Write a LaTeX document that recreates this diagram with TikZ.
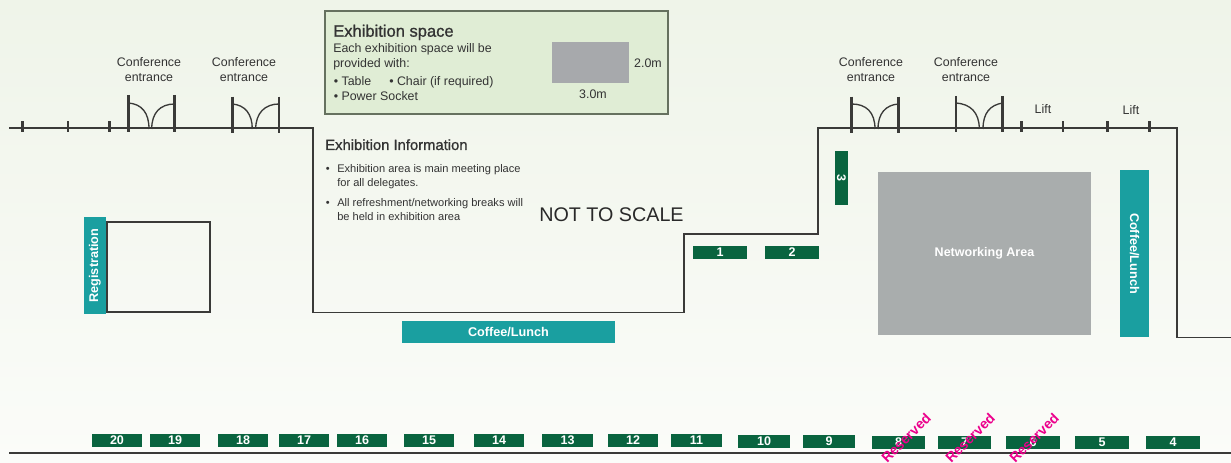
\documentclass[tikz,border=0pt]{standalone}
\usepackage{fontspec}
\setmainfont{Liberation Sans}
\newfontfamily\headfont[FakeBold=1]{Liberation Sans}
\definecolor{bgtop}{HTML}{EFF4E9}
\definecolor{bgbot}{HTML}{FBFCF9}
\definecolor{panelgreen}{HTML}{E0EDD5}
\definecolor{panelline}{HTML}{66715F}
\definecolor{standgreen}{HTML}{09643F}
\definecolor{teal}{HTML}{1A9FA0}
\definecolor{wallgrey}{HTML}{3A3A38}
\definecolor{textgrey}{HTML}{333333}
\definecolor{floorgrey}{HTML}{A9ADAD}
\definecolor{spacegrey}{HTML}{A7A9AC}
\definecolor{reservedpink}{HTML}{EC008C}
\tikzset{
  wall/.style={wallgrey,line width=1.2pt},
  tick/.style={wallgrey,line width=2.2pt},
  doorpost/.style={wallgrey,line width=2.2pt},
  doorswing/.style={wallgrey,line width=1pt},
  stand/.style={fill=standgreen,text=white,inner sep=0pt,minimum height=9.75pt,font=\fontsize{9.4}{11}\selectfont\bfseries},
  service/.style={fill=teal,text=white,inner sep=0pt,font=\fontsize{9.5}{11}\selectfont\bfseries},
  label/.style={text=textgrey,inner sep=0pt,align=center,font=\fontsize{9.3}{11.25}\selectfont},
  small/.style={text=textgrey,inner sep=0pt,anchor=base west,font=\fontsize{9.3}{11}\selectfont},
  info/.style={text=textgrey,inner sep=0pt,anchor=base west,font=\fontsize{8.3}{10}\selectfont},
  reserved/.style={text=reservedpink,inner sep=0pt,rotate=45,font=\fontsize{10.5}{12}\selectfont\bfseries}
}
\begin{document}
\begin{tikzpicture}[x=0.75pt,y=-0.75pt]
            \clip (0,0) rectangle (1231,463);
            \shade [top color=bgtop,bottom color=bgbot] (0,0) rectangle (1231,463);
            \draw [wall] (9,128.3) -- (312.7,128.3) -- (312.7,312.5) -- (684,312.5) -- (684,234) -- (818,234) -- (818,128.3) -- (1176.7,128.3) -- (1176.7,337.3) -- (1231,337.3);
            \draw [wall] (9,453) -- (1231,453);
            \draw [tick] (22.7,121.5) -- (22.7,132);
            \draw [tick] (68,121.5) -- (68,132);
            \draw [tick] (109.3,121.5) -- (109.3,132);
            \draw [tick] (1021.3,121.5) -- (1021.3,132);
            \draw [tick] (1063,121.5) -- (1063,132);
            \draw [tick] (1107.7,121.5) -- (1107.7,132);
            \draw [tick] (1149.3,121.5) -- (1149.3,132);
            \draw [doorpost] (128.3,95) -- (128.3,132);
            \draw [doorpost] (174.7,95) -- (174.7,132);
            \draw [doorswing] (128.3,103) .. controls (142,104) and (149,113) .. (149,129);
            \draw [doorswing] (174.7,104) .. controls (160,104) and (151.7,113) .. (151.7,129);
            \draw [doorpost] (232.3,96.7) -- (232.3,132.7);
            \draw [doorpost] (279,96.7) -- (279,132.7);
            \draw [doorswing] (232.3,104) .. controls (245,105) and (252.3,114) .. (252.3,129);
            \draw [doorswing] (279,104) .. controls (265,104) and (255.7,113) .. (255.7,129);
            \draw [doorpost] (851.7,96.7) -- (851.7,133);
            \draw [doorpost] (898.3,96.7) -- (898.3,133);
            \draw [doorswing] (851.7,104) .. controls (866,104) and (875,112) .. (875,129);
            \draw [doorswing] (898.3,104) .. controls (886,105) and (878,113) .. (878,129);
            \draw [doorpost] (956,96) -- (956,132);
            \draw [doorpost] (1002.7,96) -- (1002.7,132);
            \draw [doorswing] (956,103) .. controls (970,104) and (979.3,112) .. (979.3,129);
            \draw [doorswing] (1002.7,103) .. controls (990,105) and (983,113) .. (983,129);
            \node [label] (enta) at (149,69.5) {Conference\\entrance};
            \node [label] (entb) at (244,69.5) {Conference\\entrance};
            \node [label] (entc) at (871,69.5) {Conference\\entrance};
            \node [label] (entd) at (966,69.5) {Conference\\entrance};
            \node [label] (lifta) at (1043,109) {Lift};
            \node [label] (liftb) at (1131,110) {Lift};
            \node [draw=panelline,fill=panelgreen,line width=0.9pt,inner sep=0pt,minimum width=257.25pt,minimum height=77.25pt] (panel) at (496.5,62.5) {};
            \node [fill=spacegrey,inner sep=0pt,minimum width=57.75pt,minimum height=30.75pt] (spacebox) at (590.5,62.5) {};
            \node [label] (spacew) at (593,94) {3.0m};
            \node [label] (spaceh) at (648,63) {2.0m};
            \node [text=textgrey,inner sep=0pt,anchor=base west,font=\fontsize{12.4}{14}\selectfont\headfont] (panelhead) at (333,36.7) {Exhibition space};
            \node [small] (panela) at (333,53) {Each exhibition space will be};
            \node [small] (panelb) at (333,68) {provided with:};
            \node [small] (panelc) at (333.5,86) {• Table};
            \node [small] (paneld) at (389,86) {• Chair (if required)};
            \node [small] (panele) at (333.5,101) {• Power Socket};
            \node [text=textgrey,inner sep=0pt,anchor=base west,font=\fontsize{11.1}{13}\selectfont\headfont] (infohead) at (325,150) {Exhibition Information};
            \node [info] (bulleta) at (325.5,172.7) {•};
            \node [info] (infoa) at (337,172.7) {Exhibition area is main meeting place};
            \node [info] (infob) at (337,186.5) {for all delegates.};
            \node [info] (bulletb) at (325.5,206.7) {•};
            \node [info] (infoc) at (337,206.7) {All refreshment/networking breaks will};
            \node [info] (infod) at (337,220.5) {be held in exhibition area};
            \node [text=textgrey!80!black,inner sep=0pt,anchor=base west,font=\fontsize{14.8}{17}\selectfont] (notscale) at (539,221.5) {NOT TO SCALE};
            \node [draw=wallgrey,line width=1.3pt,inner sep=0pt,minimum width=77pt,minimum height=67.5pt] (regroom) at (158.5,267) {};
            \node [service,rotate=90,minimum width=72.75pt,minimum height=16.5pt] (registration) at (95,265.5) {Registration};
            \node [service,minimum width=159.75pt,minimum height=16.5pt] (coffeea) at (508.5,332) {Coffee/Lunch};
            \node [service,rotate=-90,minimum width=125.25pt,minimum height=21.75pt] (coffeeb) at (1134.5,253.5) {Coffee/Lunch};
            \node [fill=floorgrey,text=white,inner sep=0pt,minimum width=159.75pt,minimum height=122.25pt] (network) at (984.5,253.5) {\raisebox{-0.5pt}{\fontsize{9.4}{11}\selectfont\bfseries Networking Area}};
            \node [stand,minimum width=40.5pt] (stand1) at (720,252.5) {1};
            \node [stand,minimum width=40.5pt] (stand2) at (792,252.5) {2};
            \node [stand,rotate=-90,minimum width=40.5pt] (stand3) at (841.5,178) {3};
            \node [stand,minimum width=40.5pt] (stand4) at (1173,442.5) {4};
            \node [stand,minimum width=40.5pt] (stand5) at (1102,442.5) {5};
            \node [stand,minimum width=40.5pt] (stand6) at (1033,442.5) {6};
            \node [stand,minimum width=39.75pt] (stand7) at (964.5,442.5) {7};
            \node [stand,minimum width=39.75pt] (stand8) at (898.5,442.5) {8};
            \node [stand,minimum width=39pt] (stand9) at (829,441.5) {9};
            \node [stand,minimum width=39pt] (stand10) at (764,441.5) {10};
            \node [stand,minimum width=38.25pt] (stand11) at (696.5,440.5) {11};
            \node [stand,minimum width=37.5pt] (stand12) at (633,440.5) {12};
            \node [stand,minimum width=38.25pt] (stand13) at (567.5,440.5) {13};
            \node [stand,minimum width=37.5pt] (stand14) at (499,440.5) {14};
            \node [stand,minimum width=37.5pt] (stand15) at (429,440.5) {15};
            \node [stand,minimum width=37.5pt] (stand16) at (362,440.5) {16};
            \node [stand,minimum width=37.5pt] (stand17) at (304,440.5) {17};
            \node [stand,minimum width=37.5pt] (stand18) at (243,440.5) {18};
            \node [stand,minimum width=37.5pt] (stand19) at (175,440.5) {19};
            \node [stand,minimum width=37.5pt] (stand20) at (117,440.5) {20};
            \node [reserved] (reserveda) at (906,438) {Reserved};
            \node [reserved] (reservedb) at (970,438) {Reserved};
            \node [reserved] (reservedc) at (1034,438) {Reserved};
        \end{tikzpicture}
\end{document}
